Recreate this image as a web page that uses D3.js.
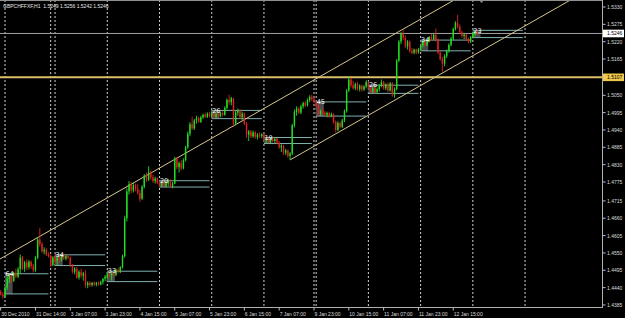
<!DOCTYPE html>
<html>
<head>
<meta charset="utf-8">
<script src="https://cdn.jsdelivr.net/npm/d3@7"></script>
<style>
body { margin: 0; background: #000; }
svg { display: block; }
</style>
</head>
<body>
<div id="chart"></div>
<script>
const SYMBOL = "GBPCHFFXF,H1";

// trading days on the chart, first hourly bar of each day
const dayDates = ["30 Dec", "31 Dec", "2 Jan", "3 Jan", "4 Jan", "5 Jan", "6 Jan", "7 Jan", "9 Jan", "10 Jan", "11 Jan", "12 Jan", "13 Jan"];
const dayFirstHour = [22, 0, 22, 0, 0, 0, 0, 0, 23, 0, 0, 0, 0];

// hourly candles [open, high, low, close]
const dec30 = [[1.4428,1.4432,1.4415,1.4418],[1.4418,1.4425,1.4405,1.4412]];
const dec31 = [
    [1.4412,1.4445,1.4408,1.4440],[1.4440,1.4475,1.4432,1.4468],[1.4468,1.4484,1.4455,1.4478],
    [1.4478,1.4482,1.4455,1.4462],[1.4462,1.4490,1.4458,1.4485],[1.4485,1.4500,1.4470,1.4475],
    [1.4475,1.4505,1.4470,1.4498],[1.4498,1.4545,1.4485,1.4535],[1.4535,1.4540,1.4495,1.4500],
    [1.4500,1.4525,1.4490,1.4520],[1.4520,1.4530,1.4495,1.4505],[1.4505,1.4528,1.4498,1.4522],
    [1.4522,1.4526,1.4500,1.4508],[1.4508,1.4515,1.4488,1.4495],[1.4495,1.4540,1.4490,1.4535],
    [1.4535,1.4600,1.4530,1.4592],[1.4592,1.4630,1.4570,1.4578],[1.4578,1.4585,1.4550,1.4555],
    [1.4555,1.4568,1.4545,1.4560],[1.4560,1.4565,1.4540,1.4545],[1.4545,1.4552,1.4535,1.4540]
];
const jan2 = [[1.4540,1.4545,1.4505,1.4510],[1.4512,1.4540,1.4508,1.4535]];
const jan3 = [
    [1.4535,1.4544,1.4515,1.4525],[1.4525,1.4540,1.4510,1.4535],[1.4535,1.4542,1.4520,1.4528],
    [1.4528,1.4544,1.4522,1.4540],[1.4540,1.4548,1.4528,1.4532],[1.4532,1.4545,1.4526,1.4540],
    [1.4540,1.4546,1.4530,1.4535],[1.4535,1.4538,1.4505,1.4510],[1.4510,1.4515,1.4485,1.4490],
    [1.4490,1.4505,1.4482,1.4500],[1.4500,1.4505,1.4468,1.4472],[1.4472,1.4495,1.4465,1.4490],
    [1.4490,1.4500,1.4470,1.4478],[1.4478,1.4490,1.4462,1.4485],[1.4485,1.4495,1.4440,1.4448],
    [1.4448,1.4460,1.4438,1.4455],[1.4455,1.4460,1.4442,1.4448],[1.4448,1.4458,1.4443,1.4455],
    [1.4455,1.4460,1.4445,1.4450],[1.4450,1.4458,1.4444,1.4455],[1.4455,1.4460,1.4446,1.4450],
    [1.4450,1.4462,1.4447,1.4458],[1.4458,1.4470,1.4450,1.4468],[1.4468,1.4480,1.4460,1.4475]
];
const jan4 = [
    [1.4475,1.4490,1.4465,1.4482],[1.4482,1.4492,1.4470,1.4478],[1.4478,1.4488,1.4462,1.4485],
    [1.4485,1.4490,1.4475,1.4480],[1.4480,1.4500,1.4476,1.4495],[1.4495,1.4502,1.4485,1.4490],
    [1.4490,1.4508,1.4486,1.4505],[1.4505,1.4545,1.4500,1.4540],[1.4540,1.4668,1.4535,1.4660],
    [1.4660,1.4755,1.4650,1.4745],[1.4745,1.4778,1.4735,1.4768],[1.4768,1.4775,1.4740,1.4748],
    [1.4748,1.4772,1.4742,1.4765],[1.4765,1.4770,1.4745,1.4752],[1.4752,1.4768,1.4735,1.4740],
    [1.4740,1.4750,1.4712,1.4722],[1.4722,1.4765,1.4718,1.4760],[1.4760,1.4800,1.4755,1.4795],
    [1.4795,1.4805,1.4775,1.4782],[1.4782,1.4825,1.4778,1.4805],[1.4805,1.4812,1.4782,1.4790],
    [1.4790,1.4798,1.4772,1.4778],[1.4778,1.4792,1.4770,1.4786],[1.4786,1.4790,1.4768,1.4772]
];
const jan5 = [
    [1.4772,1.4779,1.4760,1.4765],[1.4765,1.4778,1.4759,1.4774],[1.4774,1.4778,1.4760,1.4764],
    [1.4764,1.4776,1.4758,1.4770],[1.4770,1.4785,1.4762,1.4780],[1.4780,1.4784,1.4756,1.4760],
    [1.4760,1.4775,1.4755,1.4770],[1.4770,1.4855,1.4768,1.4848],[1.4848,1.4855,1.4815,1.4822],
    [1.4822,1.4840,1.4805,1.4835],[1.4835,1.4845,1.4812,1.4818],[1.4818,1.4850,1.4815,1.4845],
    [1.4845,1.4890,1.4840,1.4885],[1.4885,1.4935,1.4880,1.4928],[1.4928,1.4965,1.4920,1.4958],
    [1.4958,1.4982,1.4940,1.4945],[1.4945,1.4975,1.4940,1.4970],[1.4970,1.4985,1.4960,1.4978],
    [1.4978,1.4982,1.4962,1.4966],[1.4966,1.4985,1.4962,1.4980],[1.4980,1.4992,1.4975,1.4988],
    [1.4988,1.4995,1.4978,1.4982],[1.4982,1.4996,1.4978,1.4992],[1.4992,1.4998,1.4980,1.4985]
];
const jan6 = [
    [1.4985,1.5002,1.4978,1.4995],[1.4995,1.5000,1.4976,1.4982],[1.4982,1.4995,1.4977,1.4990],
    [1.4990,1.4996,1.4978,1.4984],[1.4984,1.4998,1.4980,1.4994],[1.4994,1.4999,1.4983,1.4988],
    [1.4988,1.5015,1.4985,1.5010],[1.5010,1.5040,1.5005,1.5035],[1.5035,1.5052,1.5020,1.5028],
    [1.5028,1.5045,1.5018,1.5040],[1.5040,1.5042,1.4950,1.4960],[1.4960,1.5000,1.4955,1.4995],
    [1.4995,1.5008,1.4985,1.5002],[1.5002,1.5006,1.4975,1.4980],[1.4980,1.4998,1.4970,1.4992],
    [1.4992,1.4995,1.4955,1.4960],[1.4960,1.4965,1.4915,1.4925],[1.4925,1.4940,1.4905,1.4935],
    [1.4935,1.4940,1.4915,1.4920],[1.4920,1.4938,1.4915,1.4932],[1.4932,1.4936,1.4912,1.4918],
    [1.4918,1.4930,1.4910,1.4925],[1.4925,1.4932,1.4915,1.4920],[1.4920,1.4930,1.4914,1.4926]
];
const jan7 = [
    [1.4926,1.4930,1.4905,1.4910],[1.4910,1.4916,1.4897,1.4912],[1.4912,1.4915,1.4898,1.4902],
    [1.4902,1.4914,1.4899,1.4910],[1.4910,1.4918,1.4900,1.4905],[1.4905,1.4916,1.4898,1.4912],
    [1.4912,1.4915,1.4895,1.4900],[1.4900,1.4905,1.4880,1.4885],[1.4885,1.4895,1.4870,1.4890],
    [1.4890,1.4893,1.4862,1.4868],[1.4868,1.4880,1.4860,1.4875],[1.4875,1.4878,1.4852,1.4858],
    [1.4858,1.4870,1.4845,1.4865],[1.4865,1.4960,1.4860,1.4955],[1.4955,1.5005,1.4948,1.4998],
    [1.4998,1.5015,1.4985,1.5008],[1.5008,1.5012,1.4990,1.4995],[1.4995,1.5020,1.4990,1.5015],
    [1.5015,1.5030,1.5008,1.5025],[1.5025,1.5032,1.5012,1.5018],[1.5018,1.5040,1.5014,1.5035],
    [1.5035,1.5050,1.5028,1.5045],[1.5045,1.5052,1.5032,1.5038]
];
const jan9 = [[1.5038,1.5045,1.5025,1.5030]];
const jan10 = [
    [1.5030,1.5032,1.5010,1.5015],[1.5015,1.5020,1.4984,1.4990],[1.4990,1.5005,1.4985,1.5000],
    [1.5000,1.5008,1.4988,1.4995],[1.4995,1.5000,1.4982,1.4988],[1.4988,1.4998,1.4980,1.4994],
    [1.4994,1.4998,1.4978,1.4985],[1.4985,1.4995,1.4980,1.4990],[1.4990,1.4993,1.4960,1.4965],
    [1.4965,1.4970,1.4932,1.4940],[1.4940,1.4968,1.4936,1.4962],[1.4962,1.4966,1.4945,1.4950],
    [1.4950,1.4975,1.4946,1.4970],[1.4970,1.5005,1.4965,1.5000],[1.5000,1.5070,1.4995,1.5065],
    [1.5065,1.5108,1.5060,1.5100],[1.5100,1.5105,1.5075,1.5082],[1.5082,1.5096,1.5068,1.5072],
    [1.5072,1.5090,1.5066,1.5086],[1.5086,1.5092,1.5065,1.5070],[1.5070,1.5085,1.5062,1.5080],
    [1.5080,1.5084,1.5062,1.5068],[1.5068,1.5082,1.5064,1.5078],[1.5078,1.5098,1.5072,1.5092]
];
const jan11 = [
    [1.5092,1.5095,1.5070,1.5075],[1.5075,1.5082,1.5056,1.5062],[1.5062,1.5078,1.5058,1.5072],
    [1.5072,1.5076,1.5056,1.5060],[1.5060,1.5075,1.5055,1.5070],[1.5070,1.5085,1.5062,1.5080],
    [1.5080,1.5100,1.5075,1.5092],[1.5092,1.5096,1.5068,1.5072],[1.5072,1.5088,1.5066,1.5084],
    [1.5084,1.5090,1.5060,1.5065],[1.5065,1.5092,1.5062,1.5088],[1.5088,1.5092,1.5045,1.5052],
    [1.5052,1.5075,1.5042,1.5070],[1.5070,1.5165,1.5065,1.5160],[1.5160,1.5225,1.5155,1.5220],
    [1.5220,1.5250,1.5212,1.5245],[1.5245,1.5256,1.5225,1.5232],[1.5232,1.5240,1.5200,1.5205],
    [1.5205,1.5225,1.5195,1.5220],[1.5220,1.5224,1.5185,1.5190],[1.5190,1.5200,1.5180,1.5185],
    [1.5185,1.5198,1.5180,1.5195],[1.5195,1.5198,1.5180,1.5186],[1.5186,1.5200,1.5182,1.5196]
];
const jan12 = [
    [1.5196,1.5212,1.5191,1.5208],[1.5208,1.5225,1.5202,1.5220],[1.5220,1.5224,1.5205,1.5210],
    [1.5210,1.5225,1.5206,1.5222],[1.5222,1.5238,1.5218,1.5235],[1.5235,1.5245,1.5222,1.5228],
    [1.5228,1.5246,1.5225,1.5242],[1.5242,1.5262,1.5220,1.5225],[1.5225,1.5230,1.5180,1.5185],
    [1.5185,1.5190,1.5160,1.5165],[1.5165,1.5172,1.5125,1.5150],[1.5150,1.5180,1.5142,1.5175],
    [1.5175,1.5195,1.5168,1.5190],[1.5190,1.5215,1.5185,1.5210],[1.5210,1.5235,1.5205,1.5230],
    [1.5230,1.5265,1.5225,1.5260],[1.5260,1.5285,1.5255,1.5280],[1.5280,1.5305,1.5262,1.5268],
    [1.5268,1.5275,1.5245,1.5250],[1.5250,1.5255,1.5232,1.5238],[1.5238,1.5248,1.5228,1.5242],
    [1.5242,1.5245,1.5222,1.5228],[1.5228,1.5232,1.5215,1.5220],[1.5220,1.5238,1.5216,1.5235]
];
const jan13 = [[1.5235,1.5252,1.5230,1.5248],[1.5248,1.5256,1.5238,1.5249],[1.5249,1.5256,1.5242,1.5246]];

const dayCandles = [dec30, dec31, jan2, jan3, jan4, jan5, jan6, jan7, jan9, jan10, jan11, jan12, jan13];

// daily opening range boxes (indicator)
const rangeDays = ["31 Dec", "3 Jan", "4 Jan", "5 Jan", "6 Jan", "7 Jan", "10 Jan", "11 Jan", "12 Jan", "13 Jan"];
const rangeHigh = [1.4484, 1.4544, 1.4492, 1.4779, 1.5002, 1.4916, 1.5029, 1.5082, 1.5225, 1.5256];
const rangeLow  = [1.4420, 1.4510, 1.4459, 1.4759, 1.4976, 1.4897, 1.4984, 1.5056, 1.5191, 1.5233];
const rangePips = [64, 34, 33, 20, 26, 19, 45, 26, 34, 23];

// equidistant channel: two points of the upper ray, start of the lower ray
const channelUpper = [[-2, 1.4524], [185, 1.5260]];
const channelLower = [133, 1.4845];

const goldLevel = 1.5107;

const priceTicks = [1.5330, 1.5275, 1.5220, 1.5165, 1.5050, 1.4995, 1.4940, 1.4885, 1.4830, 1.4775,
                    1.4715, 1.4660, 1.4605, 1.4550, 1.4495, 1.4440, 1.4385];
const timeLabels = ["30 Dec 2010", "31 Dec 14:00", "3 Jan 07:00", "3 Jan 23:00", "4 Jan 15:00", "5 Jan 07:00",
                    "5 Jan 23:00", "6 Jan 15:00", "7 Jan 07:00", "9 Jan 23:00", "10 Jan 15:00", "11 Jan 07:00",
                    "11 Jan 23:00", "12 Jan 15:00"];

const W = 625, H = 318;
const PLOT_W = 602, PLOT_H = 307;
const FONT = "'Liberation Sans', Arial, sans-serif";
const BULL = "#22dd22", BEAR = "#e02020";
const LEVEL_COLOR = "#7fb0b0";

// flatten days into bars
var bars = [];
var dayStart = [];
dayCandles.forEach(function (candles, d) {
    dayStart.push(bars.length);
    candles.forEach(function (c, j) {
        var hour = dayFirstHour[d] + j;
        bars.push({
            index: bars.length, date: dayDates[d],
            time: dayDates[d] + " " + (hour < 10 ? "0" : "") + hour + ":00",
            open: c[0], high: c[1], low: c[2], close: c[3]
        });
    });
});
var last = bars[bars.length - 1];

var x = d3.scaleLinear().domain([-0.3, 276.36]).range([0, PLOT_W]);
var y = d3.scaleLinear().domain([1.43785, 1.53522]).range([PLOT_H, 0]);

var svg = d3.select("#chart").append("svg").attr("width", W).attr("height", H);
svg.append("rect").attr("width", W).attr("height", H).attr("fill", "#000");

svg.append("defs").append("clipPath").attr("id", "plot")
    .append("rect").attr("width", PLOT_W).attr("height", PLOT_H);
var plot = svg.append("g").attr("clip-path", "url(#plot)");

// day separators (plus the next day in the future)
var separators = dayStart.slice(1);
separators.push(dayStart[dayStart.length - 1] + 24);
plot.selectAll(".sep").data(separators).enter().append("line")
    .attr("x1", function (d) { return x(d); }).attr("x2", function (d) { return x(d); })
    .attr("y1", 0).attr("y2", PLOT_H)
    .attr("stroke", "#d0d0d0").attr("stroke-width", 1).attr("stroke-dasharray", "2,2");

// opening range boxes and lines
rangeDays.forEach(function (day, k) {
    var d = dayDates.indexOf(day);
    var s = dayStart[d];
    var span = (d == dayDates.length - 1) ? 24 : dayCandles[d].length;
    var e = s + span - 1;
    plot.append("rect")
        .attr("x", x(s)).attr("width", x(s + 3.5) - x(s))
        .attr("y", y(rangeHigh[k])).attr("height", y(rangeLow[k]) - y(rangeHigh[k]))
        .attr("fill", "#4a4a4a");
    [rangeHigh[k], rangeLow[k]].forEach(function (p) {
        plot.append("line")
            .attr("x1", x(s)).attr("x2", x(e))
            .attr("y1", y(p)).attr("y2", y(p))
            .attr("stroke", LEVEL_COLOR).attr("stroke-width", 1);
    });
});

// bid line and gold level
plot.append("line").attr("x1", 0).attr("x2", PLOT_W)
    .attr("y1", y(last.close)).attr("y2", y(last.close))
    .attr("stroke", "#a0a0a0").attr("stroke-width", 1);
plot.append("line").attr("x1", 0).attr("x2", PLOT_W)
    .attr("y1", y(goldLevel)).attr("y2", y(goldLevel))
    .attr("stroke", "#dcbf6a").attr("stroke-width", 2);

// channel rays
var slope = (channelUpper[1][1] - channelUpper[0][1]) / (channelUpper[1][0] - channelUpper[0][0]);
var xEnd = x.domain()[1];
function ray(b0, p0) {
    plot.append("line")
        .attr("x1", x(b0)).attr("y1", y(p0))
        .attr("x2", x(xEnd)).attr("y2", y(p0 + slope * (xEnd - b0)))
        .attr("stroke", "#d6c68c").attr("stroke-width", 1);
}
ray(channelUpper[0][0], channelUpper[0][1]);
ray(channelLower[0], channelLower[1]);

// candles
var bw = 1.4;
var candle = plot.selectAll(".bar").data(bars).enter().append("g");
candle.append("line")
    .attr("x1", function (d) { return x(d.index); }).attr("x2", function (d) { return x(d.index); })
    .attr("y1", function (d) { return y(d.high); }).attr("y2", function (d) { return y(d.low); })
    .attr("stroke", function (d) { return d.close >= d.open ? BULL : BEAR; })
    .attr("stroke-width", 0.9);
candle.append("rect")
    .attr("x", function (d) { return x(d.index) - bw / 2; })
    .attr("width", bw)
    .attr("y", function (d) { return y(Math.max(d.open, d.close)); })
    .attr("height", function (d) { return Math.max(0.8, Math.abs(y(d.open) - y(d.close))); })
    .attr("fill", function (d) { return d.close >= d.open ? BULL : BEAR; });

// range labels on top
rangeDays.forEach(function (day, k) {
    var s = dayStart[dayDates.indexOf(day)];
    plot.append("text")
        .attr("x", x(s) + 0.5).attr("y", y(rangeHigh[k]) + 2.2)
        .attr("font-family", "'DejaVu Sans', sans-serif").attr("font-size", 6.5)
        .attr("fill", "#ffffff")
        .text(rangePips[k]);
});

// frame
svg.append("line").attr("x1", 0).attr("x2", PLOT_W).attr("y1", 0.5).attr("y2", 0.5).attr("stroke", "#909090");
svg.append("line").attr("x1", PLOT_W + 0.5).attr("x2", PLOT_W + 0.5).attr("y1", 0).attr("y2", PLOT_H + 1).attr("stroke", "#b0b0b0");
svg.append("line").attr("x1", 0).attr("x2", PLOT_W).attr("y1", PLOT_H + 0.5).attr("y2", PLOT_H + 0.5).attr("stroke", "#b0b0b0");

// chart shift marker
var sx = x(last.index + 2);
svg.append("path").attr("d", "M" + (sx - 2.5) + ",0L" + (sx + 2.5) + ",0L" + sx + ",3Z").attr("fill", "#909090");

// price axis
var priceAxis = svg.append("g");
priceTicks.forEach(function (p) {
    priceAxis.append("line").attr("x1", PLOT_W + 1).attr("x2", PLOT_W + 3.5)
        .attr("y1", y(p)).attr("y2", y(p)).attr("stroke", "#c0c0c0");
    priceAxis.append("text").attr("x", PLOT_W + 5).attr("y", y(p))
        .attr("dominant-baseline", "central")
        .attr("font-family", FONT).attr("font-size", 5).attr("fill", "#dcdcdc")
        .text(p.toFixed(4));
});
function priceBox(p, bg) {
    priceAxis.append("rect").attr("x", PLOT_W + 1).attr("y", y(p) - 3.8)
        .attr("width", W - PLOT_W - 2).attr("height", 7.6).attr("fill", bg);
    priceAxis.append("text").attr("x", PLOT_W + 5).attr("y", y(p))
        .attr("dominant-baseline", "central")
        .attr("font-family", FONT).attr("font-size", 5).attr("fill", "#000")
        .text(p.toFixed(4));
}
priceBox(last.close, "#ffffff");
priceBox(goldLevel, "#f0c84a");

// time axis
timeLabels.forEach(function (t) {
    var i = t.endsWith("2010")
        ? bars.findIndex(function (b) { return t.indexOf(b.date + " ") == 0; })
        : bars.findIndex(function (b) { return b.time == t; });
    svg.append("line").attr("x1", x(i)).attr("x2", x(i))
        .attr("y1", PLOT_H + 1).attr("y2", PLOT_H + 3.5).attr("stroke", "#c0c0c0");
    svg.append("text").attr("x", x(i) + 0.5).attr("y", 315.5)
        .attr("font-family", FONT).attr("font-size", 5).attr("fill", "#dcdcdc")
        .text(t);
});

// title
svg.append("text").attr("x", 3).attr("y", 7.5)
    .attr("font-family", FONT).attr("font-size", 5).attr("fill", "#e8e8e8")
    .text(SYMBOL + "\u00a0\u00a0" + [last.open, last.high, last.low, last.close].map(function (v) { return v.toFixed(4); }).join(" "));
</script>
</body>
</html>
